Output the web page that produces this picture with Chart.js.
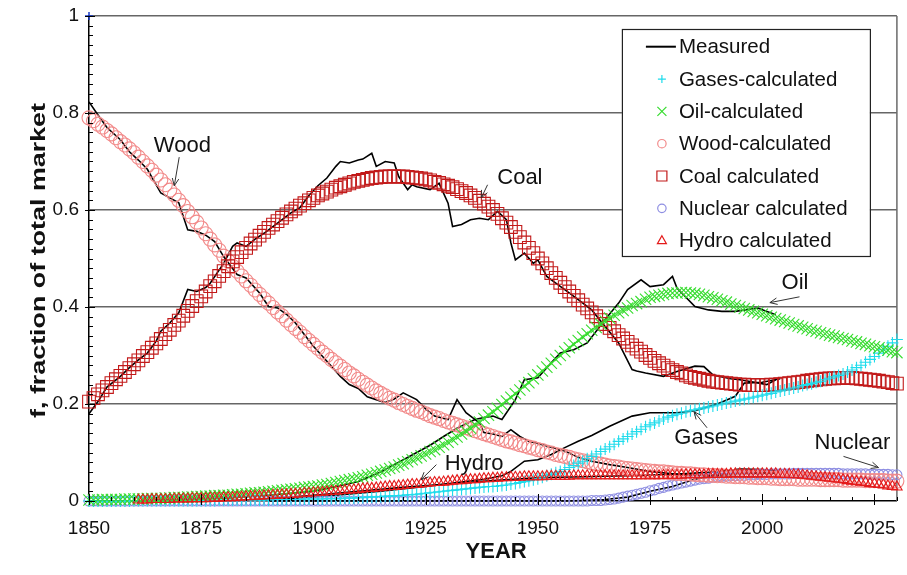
<!DOCTYPE html>
<html>
<head>
<meta charset="utf-8">
<script src="https://cdn.jsdelivr.net/npm/chart.js@4.4.1/dist/chart.umd.min.js"></script>
<style>
  html, body { margin: 0; padding: 0; background: #fff; }
  #wrap { width: 907px; height: 575px; }
</style>
</head>
<body>
<div id="wrap"><canvas id="c" width="907" height="575"></canvas></div>
<script>
// ---- Market shares of primary energy sources, 1850-2030 ----
const firstYear = 1850;           // calculated curves: one value per year from here
const xTicks = [1850, 1875, 1900, 1925, 1950, 1975, 2000, 2025];
const yTicks = [0, 0.2, 0.4, 0.6, 0.8, 1];

// Logistic substitution model (yearly values, 1850-2030)
const woodCalc = [
  .790,.784,.777,.771,.764, .757,.749,.741,.734,.726, .718,.709,.700,.691,.682, .672,.662,.652,.641,.631,
  .620,.609,.597,.586,.575, .563,.551,.540,.528,.517, .505,.495,.484,.474,.464, .454,.445,.435,.426,.417,
  .408,.399,.390,.382,.373, .364,.356,.348,.339,.331, .323,.315,.307,.300,.292, .285,.278,.271,.264,.258,
  .251,.245,.239,.233,.227, .222,.217,.212,.208,.203, .199,.195,.191,.187,.184, .180,.176,.173,.170,.166,
  .163,.160,.157,.154,.151, .148,.145,.142,.139,.136, .133,.130,.127,.124,.122, .119,.116,.114,.111,.109,
  .106,.104,.101,.099,.096, .094,.092,.090,.087,.085, .083,.081,.079,.077,.076, .074,.072,.071,.070,.068,
  .067,.066,.065,.064,.063, .062,.061,.060,.060,.059, .058,.057,.057,.056,.056, .055,.054,.054,.053,.053,
  .052,.052,.051,.051,.050, .050,.050,.049,.049,.048, .048,.048,.047,.047,.046, .046,.046,.046,.045,.045,
  .045,.045,.045,.044,.044, .044,.044,.044,.043,.043, .043,.043,.043,.042,.042, .042,.042,.042,.041,.041,
  .041
];
const coalCalc = [
  .205,.212,.220,.228,.235, .243,.251,.258,.266,.274, .282,.290,.299,.307,.316, .325,.334,.344,.353,.363,
  .372,.382,.392,.402,.412, .422,.432,.443,.453,.464, .474,.484,.494,.503,.513, .522,.531,.539,.547,.555,
  .563,.570,.577,.584,.591, .597,.603,.609,.614,.620, .625,.630,.634,.638,.642, .646,.649,.652,.655,.658,
  .660,.662,.664,.666,.667, .668,.669,.669,.669,.669, .669,.668,.667,.666,.665, .663,.661,.658,.656,.653,
  .650,.647,.643,.639,.635, .630,.625,.619,.613,.607, .600,.592,.583,.574,.565, .555,.544,.533,.522,.511,
  .500,.490,.480,.470,.460, .450,.441,.432,.423,.414, .405,.397,.389,.381,.373, .365,.357,.350,.342,.335,
  .328,.321,.314,.308,.301, .295,.289,.284,.279,.274, .270,.266,.263,.259,.256, .254,.252,.250,.248,.246,
  .245,.244,.243,.242,.241, .240,.240,.239,.239,.239, .239,.239,.240,.240,.241, .242,.243,.244,.245,.246,
  .248,.249,.250,.251,.252, .253,.253,.254,.254,.254, .254,.253,.252,.251,.250, .249,.248,.246,.245,.243,
  .242
];
const oilCalc = [
  .002,.002,.002,.003,.003, .003,.003,.003,.004,.004, .004,.004,.004,.005,.005, .005,.005,.006,.006,.007,
  .007,.007,.008,.008,.009, .009,.010,.010,.011,.011, .012,.012,.013,.014,.014, .015,.016,.017,.017,.018,
  .019,.020,.021,.022,.023, .024,.025,.026,.028,.029, .030,.031,.033,.034,.036, .038,.040,.042,.044,.046,
  .048,.050,.053,.055,.058, .061,.064,.067,.070,.074, .077,.081,.085,.089,.093, .097,.102,.106,.111,.116,
  .121,.127,.132,.138,.144, .150,.157,.163,.170,.177, .184,.191,.199,.206,.214, .221,.229,.237,.244,.252,
  .260,.268,.276,.284,.292, .300,.308,.316,.323,.331, .338,.345,.352,.358,.365, .371,.377,.383,.388,.393,
  .398,.403,.407,.411,.416, .420,.422,.424,.426,.428, .429,.429,.430,.430,.429, .428,.426,.424,.421,.419,
  .416,.413,.410,.406,.403, .400,.397,.394,.391,.388, .385,.382,.379,.376,.373, .370,.367,.364,.361,.358,
  .355,.352,.350,.347,.345, .342,.340,.337,.335,.333, .330,.328,.325,.323,.320, .318,.316,.313,.311,.308,
  .306
];
const gasCalc = [
  .000,.000,.000,.000,.000, .000,.000,.000,.000,.000, .001,.001,.001,.001,.001, .001,.001,.001,.001,.001,
  .001,.001,.001,.001,.001, .001,.001,.001,.001,.002, .002,.002,.002,.002,.002, .002,.002,.002,.002,.002,
  .002,.003,.003,.003,.003, .003,.003,.003,.004,.004, .004,.004,.004,.005,.005, .005,.005,.006,.006,.006,
  .007,.007,.008,.008,.009, .009,.010,.010,.011,.011, .012,.013,.013,.014,.015, .016,.017,.018,.019,.020,
  .021,.022,.023,.024,.025, .026,.027,.028,.029,.030, .030,.031,.032,.033,.035, .036,.038,.040,.042,.044,
  .046,.049,.052,.055,.058, .061,.065,.069,.073,.078, .082,.087,.092,.097,.102, .107,.112,.117,.123,.128,
  .133,.138,.143,.148,.153, .157,.161,.165,.169,.173, .176,.179,.181,.184,.186, .188,.190,.192,.194,.196,
  .198,.200,.202,.204,.206, .208,.210,.212,.214,.216, .218,.220,.222,.225,.227, .229,.231,.233,.235,.238,
  .240,.242,.245,.247,.250, .253,.256,.259,.262,.266, .270,.275,.280,.286,.292, .298,.305,.312,.319,.326,
  .333
];
const nuclearCalc = [
  0,0,0,0,0, 0,0,0,0,0, 0,0,0,0,0, 0,0,0,0,0,
  0,0,0,0,0, 0,0,0,0,0, 0,0,0,0,0, 0,0,0,0,0,
  0,0,0,0,0, 0,0,0,0,0, 0,0,0,0,0, 0,0,0,0,0,
  0,0,0,0,0, 0,0,0,0,0, 0,0,0,0,0, 0,0,0,0,0,
  0,0,0,0,0, 0,0,0,0,0, 0,0,0,0,0, 0,0,0,0,0,
  0,0,0,0,0, 0,0,0,0,0, .000,.000,.001,.001,.001, .002,.003,.004,.006,.008,
  .010,.012,.014,.016,.018, .021,.023,.026,.028,.031, .033,.035,.037,.039,.041, .043,.045,.046,.047,.049,
  .050,.051,.051,.052,.052, .053,.053,.054,.054,.055, .055,.055,.056,.056,.056, .056,.056,.057,.057,.057,
  .057,.057,.057,.057,.057, .057,.057,.057,.056,.056, .056,.056,.056,.056,.055, .055,.055,.055,.055,.054,
  .054
];
const hydroCalc = [
  null,null,null,null,null, null,null,null,null,null, null,.002,.002,.002,.003, .003,.003,.003,.003,.004,
  .004,.004,.004,.005,.005, .005,.005,.006,.006,.006, .007,.007,.007,.008,.008, .009,.009,.010,.010,.011,
  .011,.012,.012,.013,.013, .014,.014,.015,.016,.016, .017,.018,.018,.019,.020, .020,.021,.022,.023,.023,
  .024,.025,.026,.026,.027, .028,.029,.030,.030,.031, .032,.033,.034,.034,.035, .036,.037,.038,.038,.039,
  .040,.041,.042,.042,.043, .044,.044,.045,.046,.046, .047,.047,.048,.048,.049, .049,.049,.050,.050,.050,
  .050,.050,.051,.051,.051, .051,.051,.051,.052,.052, .052,.052,.052,.052,.052, .052,.052,.052,.052,.052,
  .052,.052,.052,.052,.052, .052,.052,.052,.053,.053, .053,.053,.053,.054,.054, .054,.054,.054,.055,.055,
  .055,.055,.055,.056,.056, .056,.056,.056,.056,.056, .056,.056,.056,.056,.055, .055,.055,.054,.054,.053,
  .052,.051,.050,.049,.048, .047,.046,.045,.044,.042, .041,.040,.039,.038,.036, .035,.034,.033,.031,.030,
  .029
];

// Single reference point at the top of the share axis
const unityYears = [1850];
const unityShare = [1];

// Historical (measured) shares
const coalMeasuredYears = [1850,1852,1854,1857,1859,1861,1863,1865,1866,1868,1870,1872,1874,1876,1877,1880,1882,1883,1885,1887,1889,1892,1895,1897,1899,1901,1903,1905,1906,1908,1910,1911,1913,1914,1916,1918,1919,1921,1922,1923,1926,1928,1930,1931,1933,1935,1937,1939,1941,1943,1944,1945,1947,1949,1950,1952,1953,1956,1959,1962,1965,1968,1971,1972,1974,1978,1981,1985,1987,1989,1993,1995,1997,2001,2003];
const coalMeasured = [.180,.205,.235,.257,.275,.291,.305,.330,.350,.367,.388,.436,.432,.440,.449,.490,.525,.532,.525,.540,.552,.573,.594,.605,.630,.650,.666,.690,.700,.697,.703,.705,.717,.690,.700,.697,.669,.642,.652,.648,.642,.655,.614,.566,.570,.580,.583,.580,.597,.580,.532,.497,.511,.490,.497,.463,.456,.436,.415,.394,.360,.326,.271,.268,.264,.257,.267,.278,.277,.260,.252,.250,.247,.240,.250];
const woodMeasuredYears = [1850,1852,1854,1857,1859,1861,1863,1866,1868,1870,1872,1874,1876,1878,1880,1883,1885,1888,1890,1892,1894,1896,1900,1903,1906,1908,1910,1912,1914,1916,1918,1920,1923,1925,1927,1930,1932,1934,1937,1938,1940,1942,1944,1946,1948,1951,1956,1959,1962,1966,1970,1975,1981,1985,1990,1995,2000];
const woodMeasured = [.823,.796,.770,.745,.720,.703,.684,.635,.625,.615,.559,.556,.548,.535,.504,.467,.460,.429,.401,.398,.385,.367,.319,.288,.257,.240,.232,.215,.209,.203,.210,.223,.209,.190,.175,.168,.209,.182,.161,.141,.138,.133,.147,.133,.123,.116,.103,.090,.082,.075,.069,.061,.055,.053,.052,.050,.048];
const oilMeasuredYears = [1860,1870,1880,1890,1895,1900,1905,1910,1913,1915,1918,1922,1926,1929,1932,1936,1938,1940,1942,1945,1947,1950,1953,1955,1958,1961,1963,1965,1968,1970,1973,1975,1978,1980,1981,1985,1988,1991,1994,1999,2003];
const oilMeasured = [.000,.003,.006,.012,.016,.020,.030,.040,.052,.060,.075,.095,.115,.133,.150,.168,.172,.175,.168,.209,.250,.254,.285,.305,.312,.326,.350,.374,.408,.436,.456,.442,.446,.463,.439,.401,.394,.391,.391,.398,.384];
const gasMeasuredYears = [1885,1895,1905,1915,1925,1932,1938,1942,1944,1947,1950,1953,1956,1959,1962,1966,1971,1975,1981,1985,1990,1994,1996,2000,2004];
const gasMeasured = [.002,.005,.012,.020,.030,.038,.045,.052,.061,.082,.085,.096,.110,.123,.135,.154,.175,.182,.182,.186,.200,.216,.243,.245,.252];
const hydroMeasuredYears = [1890,1900,1910,1920,1930,1940,1950,1960,1970,1980,1990,1995,2000,2003];
const hydroMeasured = [.005,.012,.020,.028,.035,.042,.048,.050,.052,.055,.060,.066,.065,.063];
const nuclearMeasuredYears = [1890,1956,1960,1965,1970,1975,1980,1985,1990,1995,2000,2003];
const nuclearMeasured = [.000,.000,.001,.003,.008,.020,.030,.045,.055,.057,.058,.058];

// ---- helpers ----
const calcPoints = vals => vals.map((v, i) => ({ x: firstYear + i, y: v }));
const measPoints = (yrs, vals) => yrs.map((yr, i) => ({ x: yr, y: vals[i] }));

const FONT = "'Liberation Sans', Arial, Helvetica, sans-serif";
Chart.defaults.font.family = FONT;
Chart.defaults.color = '#111';

const COLORS = {
  gas: '#1fdcec', oil: '#36dc2e', wood: '#f28a8a', coal: '#c21a1a', nuclear: '#8e8ee2', hydro: '#e41a1a'
};

function markerSet(label, vals, style, color, radius, order) {
  return {
    label, data: calcPoints(vals), showLine: false,
    pointStyle: style, pointRadius: radius, pointHoverRadius: radius,
    pointBorderColor: color, pointBackgroundColor: 'rgba(0,0,0,0)', pointBorderWidth: 1.1,
    order
  };
}
function measuredSet(yrs, vals) {
  return {
    label: 'Measured', data: measPoints(yrs, vals), showLine: true,
    borderColor: '#000', borderWidth: 1.6, pointRadius: 0, tension: 0, order: 10
  };
}

// Text callouts with arrows, in data units (year, share)
const callouts = [
  { text: 'Wood',    at: [1870.8, 0.733], from: [1870.1, 0.709], to: [1869.0, 0.650] },
  { text: 'Coal',    at: [1946.0, 0.666], from: [1938.8, 0.652], to: [1937.4, 0.625] },
  { text: 'Oil',     at: [2007.3, 0.450], from: [2008.3, 0.421], to: [2001.7, 0.409] },
  { text: 'Hydro',   at: [1935.8, 0.077], from: [1927.4, 0.075], to: [1924.0, 0.044] },
  { text: 'Gases',   at: [1987.5, 0.131], from: [1987.7, 0.151], to: [1984.8, 0.184] },
  { text: 'Nuclear', at: [2020.1, 0.120], from: [2018.1, 0.092], to: [2025.9, 0.069] }
];

const legendItems = [
  { text: 'Measured', kind: 'line', color: '#000' },
  { text: 'Gases-calculated', kind: 'cross', color: COLORS.gas },
  { text: 'Oil-calculated', kind: 'crossRot', color: COLORS.oil },
  { text: 'Wood-calculated', kind: 'circle', color: COLORS.wood },
  { text: 'Coal calculated', kind: 'rect', color: COLORS.coal },
  { text: 'Nuclear calculated', kind: 'circle', color: COLORS.nuclear },
  { text: 'Hydro calculated', kind: 'triangle', color: COLORS.hydro }
];

function drawSymbol(ctx, kind, cx, cy, color) {
  ctx.save();
  ctx.strokeStyle = color; ctx.lineWidth = 1.2;
  ctx.beginPath();
  if (kind === 'line') { ctx.lineWidth = 2; ctx.moveTo(cx - 16, cy); ctx.lineTo(cx + 14, cy); }
  else if (kind === 'cross') { ctx.moveTo(cx - 4, cy); ctx.lineTo(cx + 4, cy); ctx.moveTo(cx, cy - 4); ctx.lineTo(cx, cy + 4); }
  else if (kind === 'crossRot') { ctx.moveTo(cx - 4.5, cy - 4.5); ctx.lineTo(cx + 4.5, cy + 4.5); ctx.moveTo(cx + 4.5, cy - 4.5); ctx.lineTo(cx - 4.5, cy + 4.5); }
  else if (kind === 'circle') { ctx.arc(cx, cy, 4.2, 0, Math.PI * 2); }
  else if (kind === 'rect') { ctx.rect(cx - 5, cy - 5, 10, 10); }
  else if (kind === 'triangle') { ctx.moveTo(cx, cy - 5); ctx.lineTo(cx + 4.5, cy + 3); ctx.lineTo(cx - 4.5, cy + 3); ctx.closePath(); }
  ctx.stroke();
  ctx.restore();
}

const decor = {
  id: 'decor',
  beforeDatasetsDraw(chart) {
    const { ctx, chartArea: a } = chart;
    ctx.save();
    ctx.strokeStyle = '#6a6a6a'; ctx.lineWidth = 1.5;
    ctx.beginPath(); ctx.moveTo(a.right, a.top); ctx.lineTo(a.right, a.bottom); ctx.stroke();
    ctx.restore();
  },
  afterDraw(chart) {
    const { ctx, chartArea: a, scales: { x, y } } = chart;
    ctx.save();
    // axis tick marks (major + minor)
    ctx.strokeStyle = '#000'; ctx.lineWidth = 1;
    for (let k = 0; k <= 50; k++) {
      const py = Math.round(y.getPixelForValue(k * 0.02)) + 0.5;
      const major = k % 10 === 0;
      ctx.beginPath(); ctx.moveTo(a.left - (major ? 4 : 0), py); ctx.lineTo(a.left + (major ? 6 : 4), py); ctx.stroke();
    }
    for (let yr = 1850; yr <= 2030; yr += 5) {
      const px = Math.round(x.getPixelForValue(yr)) + 0.5;
      const major = (yr - 1850) % 25 === 0;
      ctx.beginPath(); ctx.moveTo(px, a.bottom + (major ? 4 : 0)); ctx.lineTo(px, a.bottom - (major ? 7 : 4)); ctx.stroke();
    }

    // callouts
    ctx.font = '22px ' + FONT; ctx.fillStyle = '#111';
    ctx.textAlign = 'center'; ctx.textBaseline = 'middle';
    ctx.strokeStyle = '#333'; ctx.lineWidth = 1;
    for (const c of callouts) {
      ctx.fillText(c.text, x.getPixelForValue(c.at[0]), y.getPixelForValue(c.at[1]));
      const x1 = x.getPixelForValue(c.from[0]), y1 = y.getPixelForValue(c.from[1]);
      const x2 = x.getPixelForValue(c.to[0]), y2 = y.getPixelForValue(c.to[1]);
      const ang = Math.atan2(y2 - y1, x2 - x1), hl = 8, spread = 0.42;
      ctx.beginPath();
      ctx.moveTo(x1, y1); ctx.lineTo(x2, y2);
      ctx.moveTo(x2 - hl * Math.cos(ang - spread), y2 - hl * Math.sin(ang - spread)); ctx.lineTo(x2, y2);
      ctx.lineTo(x2 - hl * Math.cos(ang + spread), y2 - hl * Math.sin(ang + spread));
      ctx.stroke();
    }

    // legend box
    const bx = a.right - 275, by = a.top + 13, bw = 248, bh = 227;
    ctx.fillStyle = '#fff'; ctx.fillRect(bx, by, bw, bh);
    ctx.strokeStyle = '#222'; ctx.lineWidth = 1.2; ctx.strokeRect(bx + 0.5, by + 0.5, bw, bh);
    ctx.font = '20.5px ' + FONT; ctx.textAlign = 'left'; ctx.textBaseline = 'middle'; ctx.fillStyle = '#111';
    legendItems.forEach((it, i) => {
      const cy = by + 17.7 + i * 32.33;
      drawSymbol(ctx, it.kind, bx + 40, cy, it.color);
      ctx.fillStyle = '#111';
      ctx.fillText(it.text, bx + 57, cy + 1);
    });

    // axis titles
    ctx.font = 'bold 22px ' + FONT; ctx.textAlign = 'center'; ctx.textBaseline = 'middle';
    ctx.fillText('YEAR', x.getPixelForValue(1940.7), 552);
    ctx.save();
    ctx.translate(39, 260.5);
    ctx.rotate(-Math.PI / 2);
    ctx.font = 'bold 20px ' + FONT;
    const title = 'f, fraction of total market';
    ctx.scale(315 / ctx.measureText(title).width, 1);
    ctx.fillText(title, 0, 0);
    ctx.restore();
    ctx.restore();
  }
};

new Chart(document.getElementById('c'), {
  type: 'scatter',
  data: {
    datasets: [
      measuredSet(coalMeasuredYears, coalMeasured),
      measuredSet(woodMeasuredYears, woodMeasured),
      measuredSet(oilMeasuredYears, oilMeasured),
      measuredSet(gasMeasuredYears, gasMeasured),
      measuredSet(hydroMeasuredYears, hydroMeasured),
      measuredSet(nuclearMeasuredYears, nuclearMeasured),
      markerSet('Nuclear calculated', nuclearCalc, 'circle', COLORS.nuclear, 5, 7),
      markerSet('Wood-calculated', woodCalc, 'circle', COLORS.wood, 7, 6),
      markerSet('Coal calculated', coalCalc, 'rect', COLORS.coal, 9, 5),
      markerSet('Gases-calculated', gasCalc, 'cross', COLORS.gas, 6, 4),
      markerSet('Oil-calculated', oilCalc, 'crossRot', COLORS.oil, 8, 3),
      markerSet('Hydro calculated', hydroCalc, 'triangle', COLORS.hydro, 6, 2),
      {
        label: 'unity', data: measPoints(unityYears, unityShare), showLine: false,
        pointStyle: 'cross', pointRadius: 4, pointBorderColor: '#1a3cc8', pointBorderWidth: 1.5, order: 0
      }
    ]
  },
  options: {
    responsive: false,
    animation: false,
    events: [],
    clip: false,
    layout: { padding: { top: 16, right: 6, left: 0, bottom: 0 } },
    plugins: { legend: { display: false }, tooltip: { enabled: false } },
    scales: {
      x: {
        type: 'linear', min: 1850, max: 2030,
        afterBuildTicks: s => { s.ticks = xTicks.map(v => ({ value: v })); },
        afterFit: s => { s.height = 74; s.paddingLeft = 0; s.paddingRight = 0; },
        grid: { display: false, drawTicks: false },
        border: { color: '#000', width: 1.5 },
        ticks: { padding: 16, font: { size: 19 }, color: '#111', maxRotation: 0, autoSkip: false, callback: v => String(v) }
      },
      y: {
        min: 0, max: 1,
        afterBuildTicks: s => { s.ticks = yTicks.map(v => ({ value: v })); },
        afterFit: s => { s.width = 89; s.paddingTop = 0; s.paddingBottom = 0; },
        grid: { color: c => (c.tick && c.tick.value === 0) ? 'rgba(0,0,0,0)' : '#666', lineWidth: 1.5, drawTicks: false },
        border: { color: '#000', width: 1.5 },
        ticks: { padding: 10, font: { size: 19 }, color: '#111', callback: v => String(Number(v.toFixed(1))) }
      }
    }
  },
  plugins: [decor]
});
</script>
</body>
</html>
